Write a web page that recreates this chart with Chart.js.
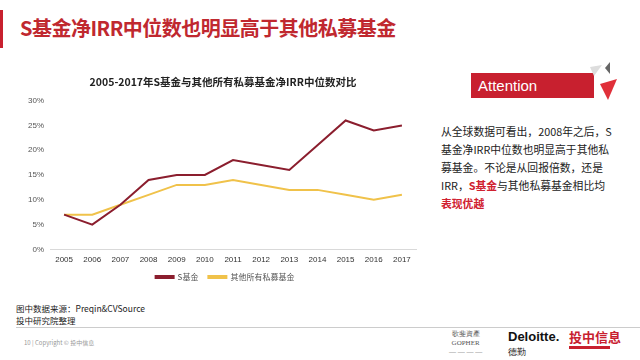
<!DOCTYPE html>
<html><head><meta charset="utf-8">
<script src="https://cdn.jsdelivr.net/npm/chart.js@4/dist/chart.umd.min.js"></script>
<style>
html,body{margin:0;padding:0;background:#fff;width:640px;height:360px;overflow:hidden;font-family:"Noto Sans CJK SC","Noto Sans",sans-serif;}
#bar{position:absolute;left:0;top:10px;width:3px;height:38px;background:#c8202f;}
#title{position:absolute;left:20px;top:14px;font-size:20px;font-weight:bold;color:#c0282f;letter-spacing:-0.5px;line-height:28px;}
#wrap{position:absolute;left:0;top:72px;width:430px;height:227px;}
#att{position:absolute;left:471px;top:73px;width:123px;height:25px;background:#c8202f;color:#fff;font-family:"Liberation Sans",Arial,sans-serif;font-size:15px;line-height:25px;padding-left:7px;box-sizing:border-box;}
#txt{position:absolute;left:441px;top:122px;width:195px;font-size:10.8px;line-height:18px;color:#222;white-space:nowrap;}
#txt .r{color:#d0202f;font-weight:bold;}
#src{position:absolute;left:16px;top:303px;font-size:8.5px;line-height:11.5px;color:#222;}
#hr{position:absolute;left:16px;top:327px;width:624px;height:1px;background:#ccc;}
#foot{position:absolute;left:24px;top:338px;font-size:6px;color:#999;}
#logo1{position:absolute;left:449px;top:330px;font-size:7px;color:#555;text-align:center;line-height:9px;font-family:"Liberation Serif",serif;}
#logo2{position:absolute;left:508px;top:330px;font-family:"Liberation Sans",sans-serif;font-weight:bold;font-size:13px;color:#111;line-height:14px;}
#logo2 span{font-size:9px;font-weight:normal;}
#logo3{position:absolute;left:569px;top:329px;font-size:13px;font-weight:bold;color:#c8202f;line-height:15px;}
#logo3b{position:absolute;left:569px;top:346px;width:41px;height:3px;background:#c8202f;}
</style></head>
<body>
<div id="bar"></div>
<div id="title">S基金净IRR中位数也明显高于其他私募基金</div>
<div id="wrap"><canvas id="c"></canvas></div>
<div id="att">Attention</div>
<svg style="position:absolute;left:580px;top:62px" width="40" height="40">
<polygon points="10,5 22,3 14,14" fill="#ddd"/>
<polygon points="25,6 30,0 30,12" fill="#666"/>
<polygon points="20,22 37,17 28,38" fill="#e0303a"/>
</svg>
<div id="txt">从全球数据可看出，2008年之后，S<br>基金净IRR中位数也明显高于其他私<br>募基金。不论是从回报倍数，还是<br>IRR，<span class="r">S基金</span>与其他私募基金相比均<br><span class="r">表现优越</span></div>
<div id="src">图中数据来源：Preqin&amp;CVSource<br>投中研究院整理</div>
<div id="hr"></div>
<div id="foot">10 | Copyright © 投中信息</div>
<div id="logo1">歌斐資產<br>GOPHER<br>— — — —</div>
<div id="logo2">Deloitte.<br><span>德勤</span></div>
<div id="logo3">投中信息</div>
<div id="logo3b"></div>
<script>
const categories = ['2005','2006','2007','2008','2009','2010','2011','2012','2013','2014','2015','2016','2017'];
const sFund = [7,5,9,14,15,15,18,17,16,21,26,24,25];
const otherFunds = [7,7,9,11,13,13,14,13,12,12,11,10,11];
const seriesNames = ['S基金','其他所有私募基金'];
const chartTitle = '2005-2017年S基金与其他所有私募基金净IRR中位数对比';

const nudge = {
  id:'nudge',
  afterLayout(chart){
    const lg = chart.legend;
    if (lg){ lg.top -= 8; lg.bottom -= 8; lg.left += 6; lg.right += 6; }
    const t = chart.titleBlock;
    if (t){ t.left += 4; t.right += 4; }
  }
};

new Chart(document.getElementById('c'), {
  type: 'line',
  data: {
    labels: categories,
    datasets: [
      {label: seriesNames[0], data: sFund, borderColor:'#8b1e2e', backgroundColor:'#8b1e2e', borderWidth:2, pointRadius:0, tension:0},
      {label: seriesNames[1], data: otherFunds, borderColor:'#f0c24a', backgroundColor:'#f0c24a', borderWidth:2, pointRadius:0, tension:0}
    ]
  },
  plugins:[nudge],
  options: {
    responsive:true, maintainAspectRatio:false, animation:false,
    layout:{padding:{left:22,right:14,top:0,bottom:0}},
    plugins:{
      title:{display:true,text:chartTitle,color:'#222',font:{family:'"Noto Sans CJK SC"',size:10.5,weight:'bold'},padding:{top:4,bottom:12}},
      legend:{position:'bottom',labels:{boxWidth:18,boxHeight:2,color:'#555',font:{family:'"Noto Sans CJK SC"',size:8},padding:10}},
      tooltip:{enabled:false}
    },
    scales:{
      x:{offset:true,grid:{display:false,drawTicks:false},border:{display:true,color:'#d9d9d9'},ticks:{color:'#333',font:{family:'"Liberation Sans"',size:8},padding:6,maxRotation:0}},
      y:{min:0,max:30,grid:{display:false,drawTicks:false},border:{display:false},ticks:{stepSize:5,color:'#555',callback:v=>v+'%',font:{family:'"Liberation Sans"',size:8},padding:6}}
    }
  }
});
</script>
</body></html>
